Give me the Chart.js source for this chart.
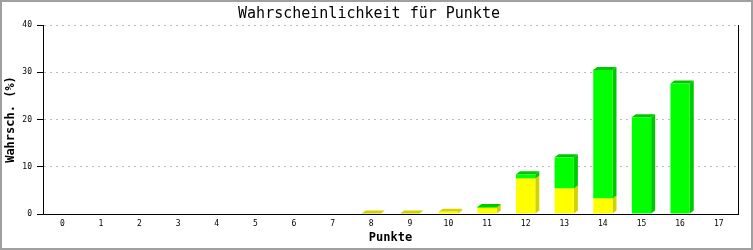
<!DOCTYPE html>
<html>
<head>
<meta charset="utf-8">
<script src="https://cdn.jsdelivr.net/npm/chart.js@4/dist/chart.umd.min.js"></script>
<style>
  html, body { margin: 0; padding: 0; background: #ffffff; }
  canvas { display: block; }
</style>
</head>
<body>
<canvas id="c" width="753" height="250"></canvas>
<script>
// ---- data ----
const categories = ['0','1','2','3','4','5','6','7','8','9','10','11','12','13','14','15','16','17'];
const yellowValues = [0, 0, 0, 0, 0, 0, 0, 0, 0.1, 0.1, 0.5, 1.3, 7.5, 5.4, 3.3, 0, 0, 0];
const greenValues  = [0, 0, 0, 0, 0, 0, 0, 0, 0, 0, 0, 0.2, 0.9, 6.6, 27.2, 20.5, 27.6, 0];
const yTicks = [0, 10, 20, 30, 40];

const titleText = 'Wahrscheinlichkeit für Punkte';
const xTitle = 'Punkte';
const yTitle = 'Wahrsch. (%)';

// ---- 3D faces plugin (uses bar elements positioned by Chart.js) ----
const DEPTH_X = 4, DEPTH_Y = 3;
const bar3d = {
  id: 'bar3d',
  beforeDatasetsDraw(chart) {
    const ctx = chart.ctx;
    chart.data.datasets.forEach((ds, di) => {
      const meta = chart.getDatasetMeta(di);
      meta.data.forEach((bar, i) => {
        if (!ds.data[i]) return;
        const p = bar.getProps(['x', 'y', 'base', 'width'], true);
        const xl = p.x - p.width / 2, xr = p.x + p.width / 2;
        const top = Math.min(p.y, p.base), bot = Math.max(p.y, p.base);
        ctx.save();
        ctx.fillStyle = ds.sideColor;
        // side face
        ctx.beginPath();
        ctx.moveTo(xr, bot);
        ctx.lineTo(xr + DEPTH_X, bot - DEPTH_Y);
        ctx.lineTo(xr + DEPTH_X, top - DEPTH_Y);
        ctx.lineTo(xr, top);
        ctx.closePath();
        ctx.fill();
        // top face
        ctx.beginPath();
        ctx.moveTo(xl, top);
        ctx.lineTo(xl + DEPTH_X, top - DEPTH_Y);
        ctx.lineTo(xr + DEPTH_X, top - DEPTH_Y);
        ctx.lineTo(xr, top);
        ctx.closePath();
        ctx.fill();
        ctx.restore();
      });
    });
  },
  afterDraw(chart) {
    const ctx = chart.ctx;
    const a = chart.chartArea;
    ctx.save();
    // right frame line of plot area
    ctx.strokeStyle = '#000000';
    ctx.lineWidth = 1;
    ctx.beginPath();
    ctx.moveTo(Math.round(a.right) + 0.5, a.top);
    ctx.lineTo(Math.round(a.right) + 0.5, a.bottom);
    ctx.stroke();
    // outer gray frame
    ctx.strokeStyle = '#a0a0a0';
    ctx.lineWidth = 2;
    ctx.strokeRect(1, 1, chart.width - 2, chart.height - 2);
    ctx.restore();
  }
};

const FONT = "'DejaVu Sans Mono', 'Liberation Mono', monospace";
Chart.defaults.font.family = FONT;
Chart.defaults.color = '#000000';

new Chart(document.getElementById('c'), {
  type: 'bar',
  data: {
    labels: categories,
    datasets: [
      { label: 'Gelb', data: yellowValues, backgroundColor: '#ffff00', sideColor: '#d2d200',
        borderWidth: 0, barPercentage: 0.5, categoryPercentage: 1.0 },
      { label: 'Grün', data: greenValues, backgroundColor: '#00ff00', sideColor: '#00c800',
        borderWidth: 0, barPercentage: 0.5, categoryPercentage: 1.0 }
    ]
  },
  options: {
    responsive: false,
    devicePixelRatio: 1,
    animation: false,
    layout: { padding: { left: 0, right: 15, top: 0, bottom: 0 } },
    plugins: {
      legend: { display: false },
      tooltip: { enabled: false },
      title: {
        display: true,
        text: titleText,
        color: '#000000',
        font: { family: FONT, size: 15, weight: 'normal' },
        padding: { top: 5, bottom: 2 }
      }
    },
    scales: {
      x: {
        stacked: true,
        offset: true,
        grid: { display: false, drawTicks: false },
        border: { display: true, color: '#000000', width: 1 },
        ticks: { font: { size: 8 }, padding: 5, maxRotation: 0, autoSkip: false },
        title: { display: true, text: xTitle, font: { size: 12, weight: 'bold' }, padding: { top: 0, bottom: 5 } },
        afterFit(scale) { scale.height = 36; }
      },
      y: {
        stacked: true,
        min: 0,
        max: 40,
        afterBuildTicks(scale) { scale.ticks = yTicks.map(v => ({ value: v })); },
        grid: {
          color: '#bbbbbb',
          drawTicks: true,
          tickLength: 6,
          tickColor: '#000000',
          tickBorderDash: [],
          lineWidth: 1
        },
        border: { display: true, color: '#000000', width: 1, dash: [2, 4] },
        ticks: { font: { size: 8 }, padding: 5 },
        title: { display: true, text: yTitle, font: { size: 12, weight: 'bold' }, padding: { top: 4, bottom: 0 } },
        afterFit(scale) { scale.width = 43; }
      }
    }
  },
  plugins: [bar3d]
});
</script>
</body>
</html>
